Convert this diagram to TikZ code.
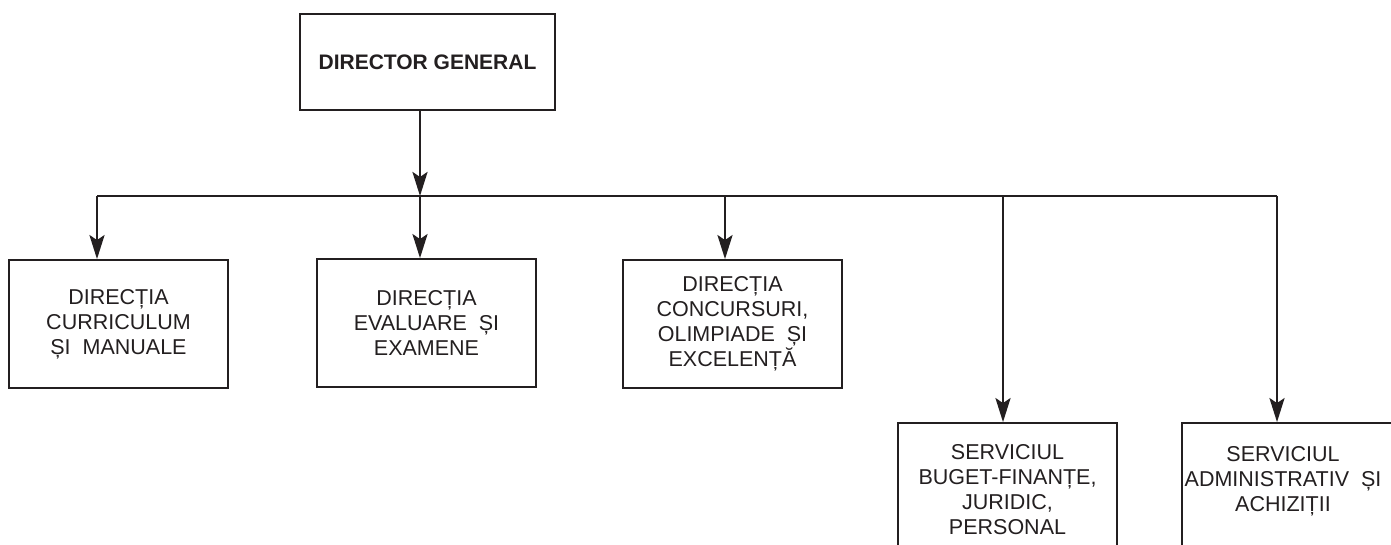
\documentclass[tikz,border=0pt]{standalone}
\usepackage{fontspec}
\setmainfont{Liberation Sans}
\usetikzlibrary{arrows.meta}
\definecolor{ink}{HTML}{231F20}
\tikzset{
  box/.style={draw=ink, line width=1.8pt, minimum width=219pt, minimum height=128pt, inner sep=0pt, align=center, text=ink, font=\fontsize{21.5}{25}\selectfont},
  txt/.style={inner sep=0pt, align=center, text=ink, font=\fontsize{21.5}{25}\selectfont},
  bus/.style={draw=ink, line width=1.8pt},
  arr/.style={draw=ink, line width=2.8pt, -{Stealth[length=24pt, width=15pt, inset=5pt, fill=ink]}},
}
\begin{document}
\begin{tikzpicture}[x=1pt,y=-1pt]
\useasboundingbox (0,0) rectangle (1391,545);
\clip (0,0) rectangle (1391,545);
\fill[white] (0,0) rectangle (1391,545);
% boxes
\node (dg) [box, minimum width=255pt, minimum height=96pt, font=\bfseries\fontsize{21}{25}\selectfont] at (427.5,62) {DIRECTOR GENERAL};
\node (b1) [box] at (118.5,324) {DIRECȚIA\\CURRICULUM\\ȘI\ \ MANUALE};
\node (b2) [box] at (426.5,323) {DIRECȚIA\\EVALUARE\ \ ȘI\\EXAMENE};
\node (b3) [box] at (732.5,324) {DIRECȚIA\\CONCURSURI,\\OLIMPIADE\ \ ȘI\\EXCELENȚĂ};
\node (b4) [box] at (1007.5,487) {};
\node (t4) [txt] at (1007.5,490) {SERVICIUL\\BUGET-FINANȚE,\\JURIDIC,\\PERSONAL};
\node (b5) [box] at (1291.5,487) {};
\node (t5) [txt] at (1283,481) {SERVICIUL\\ADMINISTRATIV\ \ ȘI\\ACHIZIȚII};
% bus junctions
\coordinate (j1) at (97,196);
\coordinate (j2) at (420,196);
\coordinate (j3) at (725,196);
\coordinate (j4) at (1003,196);
\coordinate (j5) at (1277,196);
\draw[bus] (j1) -- (j5);
\draw[arr] (dg.south -| j2) -- (j2);
\draw[arr] (j1) -- (j1 |- b1.north);
\draw[arr] (j2) -- (j2 |- b2.north);
\draw[arr] (j3) -- (j3 |- b3.north);
\draw[arr] (j4) -- (j4 |- b4.north);
\draw[arr] (j5) -- (j5 |- b5.north);
\end{tikzpicture}
\end{document}
